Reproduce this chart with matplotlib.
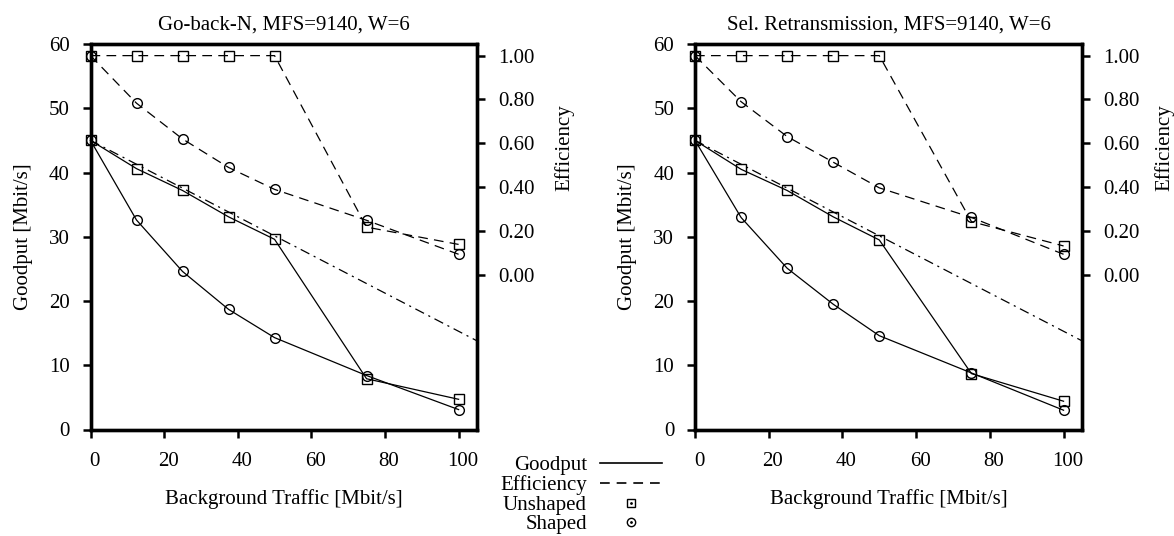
import matplotlib
matplotlib.use("Agg")
import matplotlib.pyplot as plt
from matplotlib.lines import Line2D
from matplotlib.transforms import ScaledTranslation

plt.rcParams['font.family'] = ['Liberation Serif', 'DejaVu Serif']
plt.rcParams['font.size'] = 15
plt.rcParams['lines.scale_dashes'] = False

# background traffic [Mbit/s]
traffic = [0, 12.5, 25, 37.5, 50, 75, 100]

# Go-back-N
gbn_goodput_unshaped = [45.0, 40.6, 37.2, 33.1, 29.6, 7.9, 4.7]
gbn_goodput_shaped = [45.0, 32.6, 24.6, 18.7, 14.3, 8.4, 3.1]
gbn_eff_unshaped = [1.0, 1.0, 1.0, 1.0, 1.0, 0.218, 0.139]
gbn_eff_shaped = [1.0, 0.783, 0.62, 0.49, 0.39, 0.249, 0.094]

# Selective retransmission
sr_goodput_unshaped = [45.0, 40.5, 37.2, 33.1, 29.5, 8.7, 4.4]
sr_goodput_shaped = [45.0, 33.0, 25.1, 19.5, 14.6, 8.8, 3.0]
sr_eff_unshaped = [1.0, 1.0, 1.0, 1.0, 1.0, 0.243, 0.132]
sr_eff_shaped = [1.0, 0.79, 0.631, 0.514, 0.397, 0.262, 0.094]

# theoretical goodput line (dash-dot)
theory_x = [0, 105]
theory_y = [45.0, 13.8]

titles = ["Go-back-N, MFS=9140, W=6", "Sel. Retransmission, MFS=9140, W=6"]
goodput_ticks = [0, 10, 20, 30, 40, 50, 60]
eff_ticks = [0.0, 0.2, 0.4, 0.6, 0.8, 1.0]
x_ticks = [0, 20, 40, 60, 80, 100]

dash = (7, 4.5)
dashdot = (7, 3.5, 1.5, 3.5)
lw = 0.9
ms = 7

fig = plt.figure(figsize=(11.74, 5.36), dpi=100)
axes_pos = [[90.5/1174, 106.5/536, 386.5/1174, 385.5/536],
            [695/1174, 106.5/536, 387/1174, 385.5/536]]
ylabel_x = [(-0.149, 1.201), (-0.149, 1.186)]

panels = [
    (gbn_goodput_unshaped, gbn_goodput_shaped, gbn_eff_unshaped, gbn_eff_shaped),
    (sr_goodput_unshaped, sr_goodput_shaped, sr_eff_unshaped, sr_eff_shaped),
]

shift = ScaledTranslation(4/100, 0, fig.dpi_scale_trans)

for i, (gu, gs, eu, es) in enumerate(panels):
    ax = fig.add_axes(axes_pos[i])
    ax2 = ax.twinx()

    ax.plot(traffic, gu, '-', color='k', lw=lw, marker='s', ms=ms, mfc='none', mec='k', mew=1, clip_on=False)
    ax.plot(traffic, gs, '-', color='k', lw=lw, marker='o', ms=ms, mfc='none', mec='k', mew=1, clip_on=False)
    ax.plot(theory_x, theory_y, color='k', lw=lw, dashes=dashdot)

    ax2.plot(traffic, eu, color='k', lw=lw, dashes=dash, marker='s', ms=ms, mfc='none', mec='k', mew=1, clip_on=False)
    ax2.plot(traffic, es, color='k', lw=lw, dashes=dash, marker='o', ms=ms, mfc='none', mec='k', mew=1, clip_on=False)

    ax.set_xlim(0, 105)
    ax.set_ylim(0, 60)
    ax2.set_ylim(-0.705, 1.053)

    ax.set_xticks(x_ticks)
    ax.set_yticks(goodput_ticks)
    ax2.set_yticks(eff_ticks)
    ax2.set_yticklabels(["%.2f" % v for v in eff_ticks])

    for a in (ax, ax2):
        for s in a.spines.values():
            s.set_linewidth(2.4)
    ax.tick_params(axis='both', direction='out', length=6, width=1.8, pad=9, right=False, top=False)
    ax.tick_params(axis='x', pad=10.5)
    ax2.tick_params(axis='y', direction='out', length=6, width=1.8, pad=9)
    for lab in ax.get_xticklabels():
        lab.set_transform(lab.get_transform() + shift)

    ax.set_xlabel("Background Traffic [Mbit/s]", labelpad=12.5)
    ax.set_ylabel("Goodput [Mbit/s]")
    ax.yaxis.set_label_coords(ylabel_x[i][0], 0.5)
    ax2.set_ylabel("Efficiency")
    ax2.yaxis.set_label_coords(ylabel_x[i][1], 0.73)
    ax.set_title(titles[i], fontsize=15, pad=10.5)

handles = [
    Line2D([], [], color='k', lw=1.2),
    Line2D([], [], color='k', lw=1.2, dashes=(7, 5)),
    (Line2D([], [], ls='none', marker='s', ms=6, mfc='none', mec='k', mew=1),
     Line2D([], [], ls='none', marker='.', ms=2, color='k')),
    (Line2D([], [], ls='none', marker='o', ms=6, mfc='none', mec='k', mew=1),
     Line2D([], [], ls='none', marker='.', ms=2, color='k')),
]
labels = ["Goodput", "Efficiency", "Unshaped", "Shaped"]
fig.legend(handles, labels, loc='upper right', bbox_to_anchor=(662/1174, 1 - 456/536),
           frameon=False, markerfirst=False, borderpad=0, borderaxespad=0,
           handlelength=2.98, handletextpad=0.63, labelspacing=0.02, handleheight=0.6)

fig.savefig("out.png", dpi=100)
